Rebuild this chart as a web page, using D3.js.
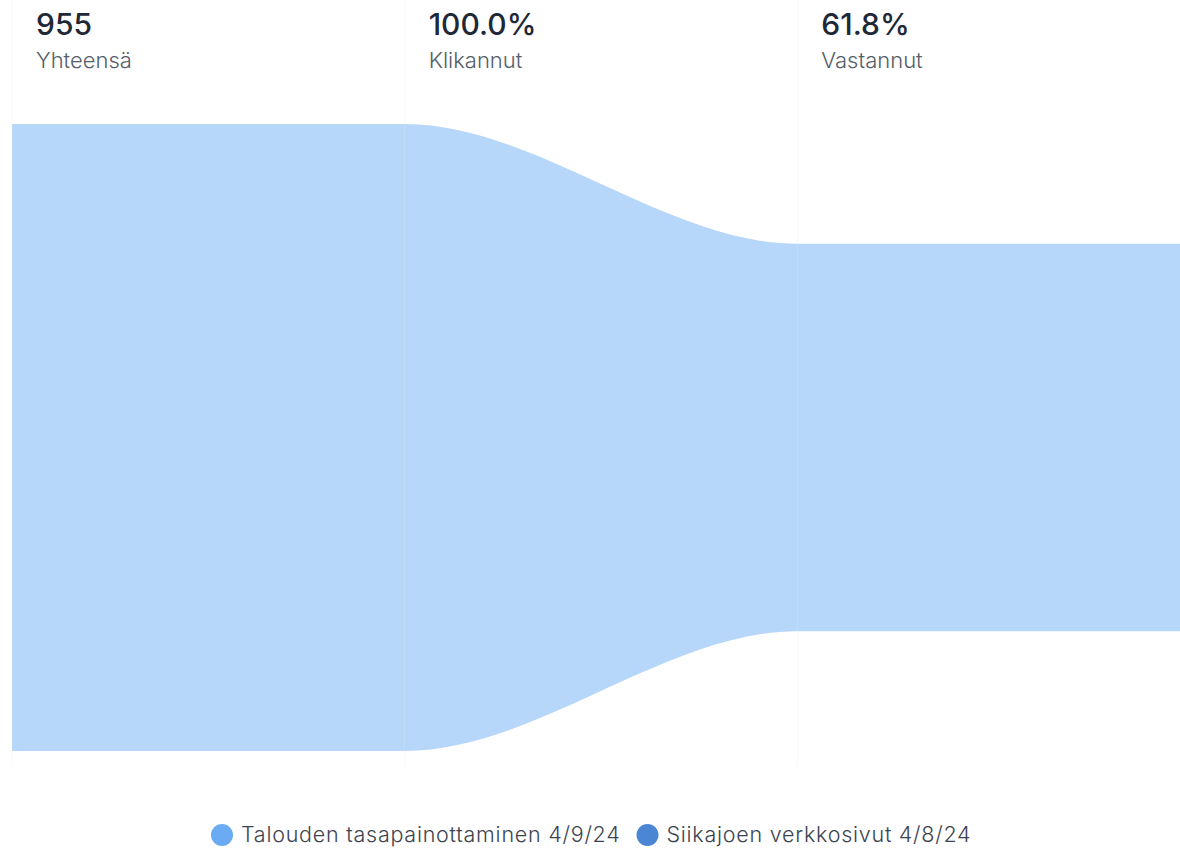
<!DOCTYPE html>
<html>
<head>
<meta charset="utf-8">
<script src="https://cdn.jsdelivr.net/npm/d3@7"></script>
<style>
  body { margin: 0; background: #fff; }
  text { font-family: Inter, "Noto Sans", sans-serif; }
</style>
</head>
<body>
<div id="chart"></div>
<script>
// funnel stages
var stages = ["Yhteensä", "Klikannut", "Vastannut"];
var stageValues = [955, 955, 590];
var headerLabels = ["955", "100.0%", "61.8%"];
var legendNames = ["Talouden tasapainottaminen 4/9/24", "Siikajoen verkkosivut 4/8/24"];
var legendColors = ["#6aabf4", "#4a86d4"];

var W = 1180, H = 848;
var margin = {top: 124, right: 0, bottom: 97, left: 12};
var height = H - margin.top - margin.bottom;

var svg = d3.select("#chart").append("svg")
  .attr("width", W).attr("height", H);

// x: one band per stage
var xScale = d3.scaleBand().domain(stages).range([margin.left, 1190]);
var yScale = d3.scaleLinear().domain([0, stageValues[0]]).range([0, height]);
var centerY = margin.top + height / 2;

// stage 1 is flat up to stage 2, then smooth step down into stage 3
var areaPts = [
  {x: xScale(stages[0]), v: stageValues[0]},
  {x: xScale(stages[1]), v: stageValues[1]},
  {x: xScale(stages[2]), v: stageValues[2]},
  {x: xScale(stages[2]) + xScale.bandwidth(), v: stageValues[2]}
];

var area = d3.area()
  .x(function(d) { return d.x; })
  .y0(function(d) { return centerY - yScale(d.v) / 2; })
  .y1(function(d) { return centerY + yScale(d.v) / 2; })
  .curve(d3.curveMonotoneX);

svg.append("path")
  .datum(areaPts)
  .attr("d", area)
  .attr("fill", "#b6d6fa");

// faint stage separators
svg.selectAll(".sep")
  .data(stages)
  .enter().append("line")
  .attr("class", "sep")
  .attr("x1", function(d) { return xScale(d); })
  .attr("x2", function(d) { return xScale(d); })
  .attr("y1", 0).attr("y2", 766)
  .attr("stroke", "#e4e9f0")
  .attr("stroke-opacity", 0.3)
  .attr("stroke-width", 1);

// headers
var hdr = svg.selectAll(".hdr")
  .data(stages)
  .enter().append("g")
  .attr("class", "hdr")
  .attr("transform", function(d) { return "translate(" + (xScale(d) + 24) + ",0)"; });

hdr.append("text")
  .attr("y", 35)
  .attr("font-size", 30)
  .attr("font-weight", 500)
  .attr("fill", "#1e2836")
  .text(function(d, i) { return headerLabels[i]; });

hdr.append("text")
  .attr("y", 68)
  .attr("font-size", 22)
  .attr("font-weight", 300)
  .attr("fill", "#555d69")
  .text(function(d) { return d; });

// legend
var legend = svg.append("g").attr("transform", "translate(0,835)");
var lx = 222;
legendNames.forEach(function(name, i) {
  var g = legend.append("g").attr("transform", "translate(" + lx + ",0)");
  g.append("circle").attr("r", 11).attr("fill", legendColors[i]);
  var t = g.append("text")
    .attr("x", 19).attr("y", 7)
    .attr("font-size", 21.5)
    .attr("font-weight", 300)
    .attr("letter-spacing", 0.75)
    .attr("fill", "#3d4450")
    .text(name);
  lx += 19 + t.node().getComputedTextLength() + 27;
});
</script>
</body>
</html>
